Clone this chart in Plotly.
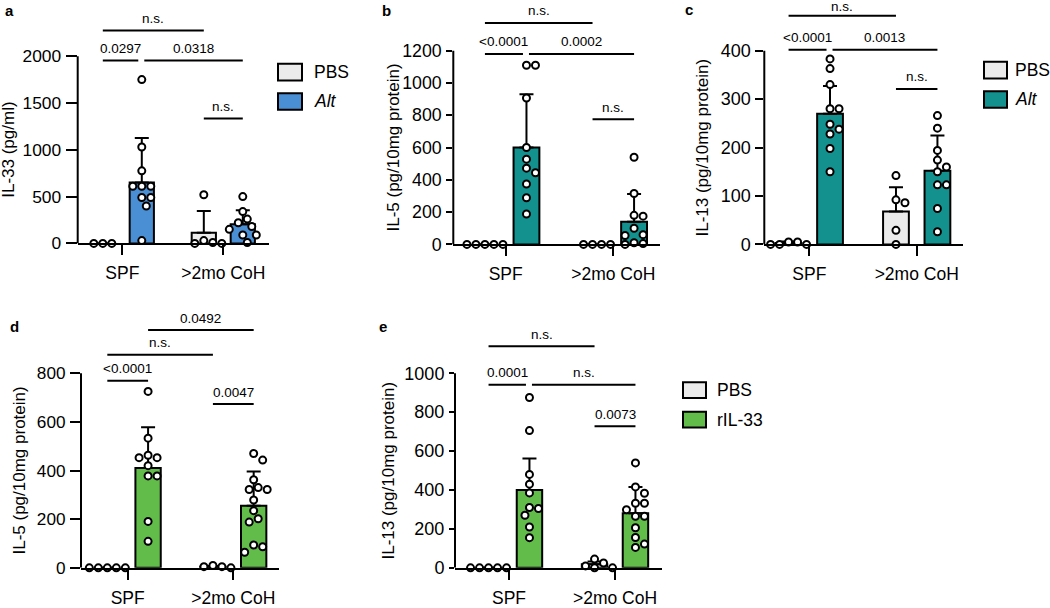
import plotly.graph_objects as go

W, H = 1050, 608
FONT = "Liberation Sans, Arial, sans-serif"
groups = ["SPF", ">2mo CoH"]

GREY = "#ebebeb"
BLUE = "#4a8fd4"
TEAL = "#12918e"
GREEN = "#62bc4a"

# ---- a: IL-33 (pg/ml), PBS vs Alt ----
a_pbs_pts = [[0, 0, 0], [520, 30, 10, 0, 0]]
a_trt_pts = [[1750, 1030, 775, 610, 610, 610, 490, 490, 400, 30],
             [500, 340, 260, 220, 180, 150, 90, 90, 10]]
a_pbs_mean = [0, 115]
a_pbs_sd = [0, 230]
a_trt_mean = [650, 205]
a_trt_sd = [475, 150]
a_ticks = [0, 500, 1000, 1500, 2000]

# ---- b: IL-5, PBS vs Alt ----
b_pbs_pts = [[0, 0, 0, 0, 0], [0, 0, 0, 0]]
b_trt_pts = [[1110, 1110, 907, 600, 528, 472, 444, 374, 289, 188],
             [540, 315, 180, 175, 100, 60, 55, 10, 5, 0]]
b_pbs_mean = [0, 0]
b_pbs_sd = [0, 0]
b_trt_mean = [600, 140]
b_trt_sd = [330, 172]
b_ticks = [0, 200, 400, 600, 800, 1000, 1200]

# ---- c: IL-13, PBS vs Alt ----
c_pbs_pts = [[5, 5, 0, 0, 0], [142, 92, 86, 29, 0]]
c_trt_pts = [[383, 363, 330, 280, 280, 248, 238, 228, 198, 150],
             [266, 240, 194, 174, 160, 150, 123, 123, 74, 26]]
c_pbs_mean = [3, 68]
c_pbs_sd = [3, 50]
c_trt_mean = [270, 152]
c_trt_sd = [57, 73]
c_ticks = [0, 100, 200, 300, 400]

# ---- d: IL-5, PBS vs rIL-33 ----
d_pbs_pts = [[0, 0, 0, 0, 0], [5, 10, 0, 5]]
d_trt_pts = [[725, 533, 463, 453, 453, 420, 378, 378, 191, 109],
             [470, 443, 362, 330, 322, 322, 279, 235, 202, 188, 94, 87, 64]]
d_pbs_mean = [0, 5]
d_pbs_sd = [0, 3]
d_trt_mean = [410, 255]
d_trt_sd = [168, 141]
d_ticks = [0, 200, 400, 600, 800]

# ---- e: IL-13, PBS vs rIL-33 ----
e_pbs_pts = [[0, 0, 0, 0, 0], [45, 25, 10, 0, 0]]
e_trt_pts = [[875, 705, 480, 430, 385, 310, 305, 270, 210, 155],
             [539, 416, 383, 332, 332, 299, 265, 265, 206, 156, 122, 105]]
e_pbs_mean = [0, 18]
e_pbs_sd = [0, 15]
e_trt_mean = [400, 280]
e_trt_sd = [162, 136]
e_ticks = [0, 200, 400, 600, 800, 1000]

# significance brackets: (from bar, to bar, height, label)
# bars: 0 = SPF PBS, 1 = SPF treated, 2 = CoH PBS, 3 = CoH treated
a_sig = [(0, 2, 2275, "n.s."), (0, 1, 1954, "0.0297"), (1, 3, 1954, "0.0318"), (2, 3, 1333, "n.s.")]
b_sig = [(0, 2, 1372, "n.s."), (0, 1, 1180, "<0.0001"), (1, 3, 1180, "0.0002"), (2, 3, 775, "n.s.")]
c_sig = [(0, 2, 472, "n.s."), (0, 1, 402, "<0.0001"), (1, 3, 402, "0.0013"), (2, 3, 321, "n.s.")]
d_sig = [(1, 3, 977, "0.0492"), (0, 2, 876, "n.s."), (0, 1, 769, "<0.0001"), (2, 3, 673, "0.0047")]
e_sig = [(0, 2, 1138, "n.s."), (0, 1, 940, "0.0001"), (1, 3, 940, "n.s."), (2, 3, 727, "0.0073")]

panels = [
    dict(tag="a", title="IL-33 (pg/ml)", ticks=a_ticks, pbs=a_pbs_pts, trt=a_trt_pts,
         pm=a_pbs_mean, ps=a_pbs_sd, tm=a_trt_mean, ts=a_trt_sd, sig=a_sig, col=BLUE,
         left=77.7, right=269, g1=122.3, g2=223.3, y0=248.3, ytop=57.3, dtop=0, tx=9,
         tl=11, tf=17.4),
    dict(tag="b", title="IL-5 (pg/10mg protein)", ticks=b_ticks, pbs=b_pbs_pts, trt=b_trt_pts,
         pm=b_pbs_mean, ps=b_pbs_sd, tm=b_trt_mean, ts=b_trt_sd, sig=b_sig, col=TEAL,
         left=453.3, right=660, g1=505.7, g2=613.3, y0=249.3, ytop=51.7, dtop=0, tx=394,
         tl=6, tf=17.8),
    dict(tag="c", title="IL-13 (pg/10mg protein)", ticks=c_ticks, pbs=c_pbs_pts, trt=c_trt_pts,
         pm=c_pbs_mean, ps=c_pbs_sd, tm=c_trt_mean, ts=c_trt_sd, sig=c_sig, col=TEAL,
         left=764.3, right=963.3, g1=809.3, g2=916.7, y0=249.3, ytop=51.7, dtop=0, tx=703,
         tl=8, tf=18),
    dict(tag="d", title="IL-5 (pg/10mg protein)", ticks=d_ticks, pbs=d_pbs_pts, trt=d_trt_pts,
         pm=d_pbs_mean, ps=d_pbs_sd, tm=d_trt_mean, ts=d_trt_sd, sig=d_sig, col=GREEN,
         left=81, right=279.3, g1=127.7, g2=233.3, y0=579.3, ytop=380.7, dtop=300, tx=20,
         tl=10, tf=17.2),
    dict(tag="e", title="IL-13 (pg/10mg protein)", ticks=e_ticks, pbs=e_pbs_pts, trt=e_trt_pts,
         pm=e_pbs_mean, ps=e_pbs_sd, tm=e_trt_mean, ts=e_trt_sd, sig=e_sig, col=GREEN,
         left=455, right=661.7, g1=509, g2=615, y0=579.3, ytop=380.7, dtop=300, tx=389,
         tl=5, tf=18),
]
letters = [("a", 3, 11), ("b", 380, 11), ("c", 683, 10), ("d", 8, 333), ("e", 377, 333)]

OFF = 0.193   # bar offset from group centre
BW = 0.24     # bar width


def swarm(vals, centre, ppx, ppy, d=9.0):
    # simple beeswarm: place each dot at the first free horizontal slot
    placed, out = [], []
    steps = [0]
    for k in range(1, 12):
        steps += [k * d / 2, -k * d / 2]
    for v in vals:
        for s in steps:
            if all((s - px) ** 2 + ((v - pv) * ppy) ** 2 >= (d * 0.98) ** 2 for px, pv in placed):
                break
        placed.append((s, v))
        out.append(centre + s / ppx)
    return out


fig = go.Figure()
shapes, annos = [], []

for i, p in enumerate(panels):
    n = "" if i == 0 else str(i + 1)
    xa, ya = "x" + n, "y" + n
    ppx = p["g2"] - p["g1"]
    top = p["ticks"][-1]
    ppy = (p["y0"] - p["ytop"]) / top
    xr = [(p["left"] - p["g1"]) / ppx, (p["right"] - p["g1"]) / ppx]
    yr = [0, (p["y0"] - p["dtop"]) / ppy]

    fig.layout["xaxis" + n] = dict(
        domain=[p["left"] / W, p["right"] / W], range=xr, anchor=ya,
        tickvals=[0, 1], ticktext=groups, showline=True, linecolor="black", linewidth=2,
        ticks="outside", ticklen=10, tickwidth=2, tickcolor="black", showgrid=False,
        zeroline=False, tickfont=dict(size=17.5, color="black"), ticklabelstandoff=3)
    fig.layout["yaxis" + n] = dict(
        domain=[1 - p["y0"] / H, 1 - p["dtop"] / H], range=yr, anchor=xa,
        tickvals=p["ticks"], showline=False, ticks="outside", ticklen=p["tl"], tickwidth=2,
        tickcolor="black", showgrid=False, zeroline=False,
        tickfont=dict(size=p["tf"], color="black"), ticklabelstandoff=1)

    # y axis line only up to the top tick
    shapes.append(dict(type="line", xref="paper", yref=ya, x0=p["left"] / W, x1=p["left"] / W,
                       y0=0, y1=top, line=dict(color="black", width=2)))

    xpos = [-OFF, OFF, 1 - OFF, 1 + OFF]
    for xs, mean, sd, col in [([xpos[0], xpos[2]], p["pm"], p["ps"], GREY),
                              ([xpos[1], xpos[3]], p["tm"], p["ts"], p["col"])]:
        fig.add_trace(go.Bar(
            x=xs, y=mean, width=BW, xaxis=xa, yaxis=ya, showlegend=False,
            marker=dict(color=col, line=dict(color="black", width=2)),
            error_y=dict(type="data", symmetric=False, array=sd, arrayminus=[0] * len(sd),
                         color="black", thickness=2, width=7)))
    for j, pts in enumerate([p["pbs"][0], p["trt"][0], p["pbs"][1], p["trt"][1]]):
        vals = sorted(pts, reverse=True)
        fig.add_trace(go.Scatter(
            x=swarm(vals, xpos[j], ppx, ppy), y=vals, mode="markers", xaxis=xa, yaxis=ya,
            showlegend=False, cliponaxis=False,
            marker=dict(size=7, color="white", line=dict(color="black", width=2))))

    # brackets
    for a0, a1, lvl, lab in p["sig"]:
        x0, x1 = xpos[a0], xpos[a1]
        for other in p["sig"]:
            if other[2] == lvl and other[:2] != (a0, a1):
                if other[0] == a1:
                    x1 -= 3.5 / ppx
                if other[1] == a0:
                    x0 += 2.5 / ppx
        # keep the topmost label of panel c inside the page
        shift = 9 if lvl * ppy > p["y0"] - p["dtop"] - 22 else 12
        shapes.append(dict(type="line", xref=xa, yref=ya, x0=x0, x1=x1, y0=lvl, y1=lvl,
                           line=dict(color="black", width=2)))
        annos.append(dict(x=(x0 + x1) / 2, y=lvl, xref=xa, yref=ya, text=lab, showarrow=False,
                          yanchor="middle", yshift=shift, font=dict(size=13.5, color="black")))

    # axis title, centred on the drawn axis line
    annos.append(dict(x=p["tx"] / W, y=1 - (p["y0"] + p["ytop"]) / 2 / H, xref="paper",
                      yref="paper", text=p["title"], textangle=-90, showarrow=False,
                      xanchor="center", yanchor="middle", font=dict(size=17, color="black")))

for t, lx, ly in letters:
    annos.append(dict(x=lx / W, y=1 - ly / H, xref="paper", yref="paper", text="<b>%s</b>" % t,
                      showarrow=False, xanchor="left", yanchor="middle",
                      font=dict(size=15, color="black")))

# legends (boxes in pixel layout positions)
legends = [
    (278, 302, [(65, 82), (95, 112)], 312, ["PBS", "<i>Alt</i>"], [GREY, BLUE]),
    (984, 1007, [(63, 80), (93, 110)], 1013, ["PBS", "<i>Alt</i>"], [GREY, TEAL]),
    (683, 706, [(390, 406), (420, 436)], 715, ["PBS", "rIL-33"], [GREY, GREEN]),
]
for x0, x1, rows, tx, labs, cols in legends:
    for (r0, r1), lab, col in zip(rows, labs, cols):
        shapes.append(dict(type="rect", xref="paper", yref="paper", x0=x0 / W, x1=x1 / W,
                           y0=1 - r1 / H, y1=1 - r0 / H, fillcolor=col,
                           line=dict(color="black", width=2)))
        annos.append(dict(x=tx / W, y=1 - (r0 + r1) / 2 / H, xref="paper", yref="paper",
                          text=lab, showarrow=False, xanchor="left", yanchor="middle",
                          font=dict(size=17.5, color="black")))

fig.update_layout(
    width=W, height=H, margin=dict(l=0, r=0, t=0, b=0),
    paper_bgcolor="white", plot_bgcolor="white", showlegend=False,
    font=dict(family=FONT, color="black"), barmode="overlay",
    shapes=shapes, annotations=annos)

fig.write_html("out.html", config={"displayModeBar": False},
               post_script="document.body.style.margin='0';")
